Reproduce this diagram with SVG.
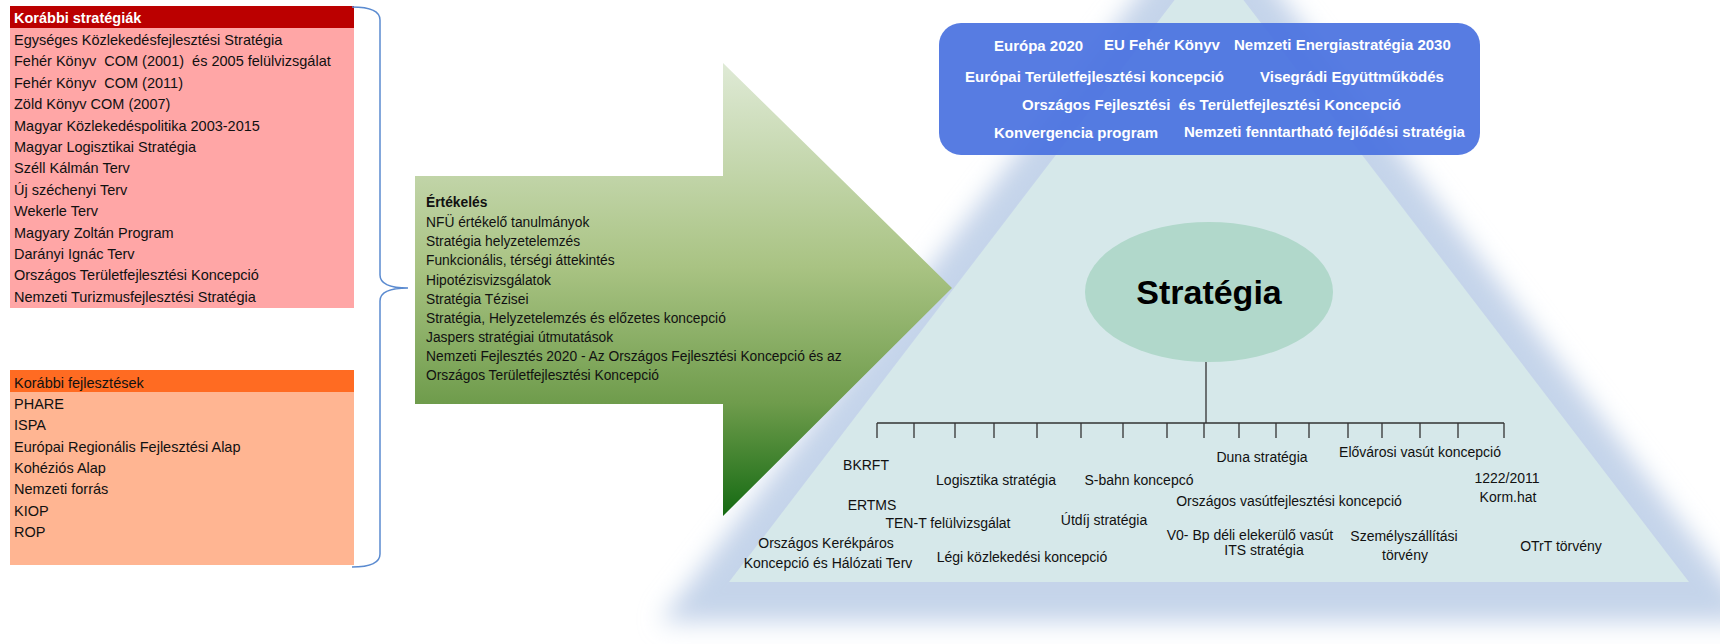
<svg xmlns="http://www.w3.org/2000/svg" width="1720" height="644" viewBox="0 0 1720 644">
<defs>
<linearGradient id="gArrow" x1="0" y1="63" x2="0" y2="516" gradientUnits="userSpaceOnUse">
<stop offset="0" stop-color="#dfead6"/>
<stop offset="0.45" stop-color="#a9c383"/>
<stop offset="0.75" stop-color="#6f9c4c"/>
<stop offset="1" stop-color="#146a12"/>
</linearGradient>
<filter id="fGlow" x="-20%" y="-20%" width="140%" height="140%">
<feGaussianBlur stdDeviation="12"/>
</filter>
<style>
.t{font-family:"Liberation Sans",Arial,sans-serif;font-size:14.5px;fill:#111;white-space:pre}
.hw{font-family:"Liberation Sans",Arial,sans-serif;font-size:14.5px;font-weight:bold;fill:#fff}
.a{font-family:"Liberation Sans",Arial,sans-serif;font-size:13.8px;fill:#111;white-space:pre}
.b{font-family:"Liberation Sans",Arial,sans-serif;font-size:15px;font-weight:bold;fill:#fff;white-space:pre}
.l{font-family:"Liberation Sans",Arial,sans-serif;font-size:14px;fill:#111;text-anchor:middle}
.ln{stroke:#333;stroke-width:1.3;fill:none}
</style>
</defs>
<rect width="1720" height="644" fill="#fff"/>

<g id="pyramid">
<polygon points="1209,-98 1757,622 660,622" fill="#c5d4ea" filter="url(#fGlow)"/>
<polygon points="1209,-45 1689,582 729,582" fill="#d6e8ea"/>
</g>

<g id="strategiak">
<rect x="10" y="6" width="344" height="302" fill="#ffa6a6"/>
<rect x="10" y="6" width="344" height="22" fill="#bb0000"/>
<text class="hw" x="14" y="23">Korábbi stratégiák</text>
<text class="t" x="14" y="45">Egységes Közlekedésfejlesztési Stratégia</text>
<text class="t" x="14" y="66.4">Fehér Könyv  COM (2001)  és 2005 felülvizsgálat</text>
<text class="t" x="14" y="87.8">Fehér Könyv  COM (2011)</text>
<text class="t" x="14" y="109.2">Zöld Könyv COM (2007)</text>
<text class="t" x="14" y="130.6">Magyar Közlekedéspolitika 2003-2015</text>
<text class="t" x="14" y="152">Magyar Logisztikai Stratégia</text>
<text class="t" x="14" y="173.4">Széll Kálmán Terv</text>
<text class="t" x="14" y="194.8">Új széchenyi Terv</text>
<text class="t" x="14" y="216.2">Wekerle Terv</text>
<text class="t" x="14" y="237.6">Magyary Zoltán Program</text>
<text class="t" x="14" y="259">Darányi Ignác Terv</text>
<text class="t" x="14" y="280.4">Országos Területfejlesztési Koncepció</text>
<text class="t" x="14" y="301.8">Nemzeti Turizmusfejlesztési Stratégia</text>
</g>

<g id="fejlesztesek">
<rect x="10" y="370" width="344" height="195" fill="#ffb592"/>
<rect x="10" y="370" width="344" height="22" fill="#ff6b22"/>
<text class="t" x="14" y="388">Korábbi fejlesztések</text>
<text class="t" x="14" y="409">PHARE</text>
<text class="t" x="14" y="430.3">ISPA</text>
<text class="t" x="14" y="451.6">Európai Regionális Fejlesztési Alap</text>
<text class="t" x="14" y="472.9">Kohéziós Alap</text>
<text class="t" x="14" y="494.2">Nemzeti forrás</text>
<text class="t" x="14" y="515.5">KIOP</text>
<text class="t" x="14" y="536.8">ROP</text>
</g>

<g id="brace">
<path d="M352,7 Q380,7 380,20 L380,275 Q380,288 408,288 Q380,288 380,301 L380,554 Q380,567 352,567" fill="none" stroke="#5b8bd0" stroke-width="1.5"/>
</g>

<g id="ertekeles">
<polygon points="415,176 723,176 723,63 952,288 723,516 723,404 415,404" fill="url(#gArrow)"/>
<text class="a" x="426" y="207" font-weight="bold">Értékelés</text>
<text class="a" x="426" y="227">NFÜ értékelő tanulmányok</text>
<text class="a" x="426" y="246">Stratégia helyzetelemzés</text>
<text class="a" x="426" y="265">Funkcionális, térségi áttekintés</text>
<text class="a" x="426" y="284.5">Hipotézisvizsgálatok</text>
<text class="a" x="426" y="303.5">Stratégia Tézisei</text>
<text class="a" x="426" y="322.5">Stratégia, Helyzetelemzés és előzetes koncepció</text>
<text class="a" x="426" y="341.5">Jaspers stratégiai útmutatások</text>
<text class="a" x="426" y="361">Nemzeti Fejlesztés 2020 - Az Országos Fejlesztési Koncepció és az</text>
<text class="a" x="426" y="380">Országos Területfejlesztési Koncepció</text>
</g>

<g id="kontextus">
<rect x="939" y="23" width="541" height="132" rx="22" fill="#4a72e0" fill-opacity="0.93"/>
<text class="b" x="994" y="51">Európa 2020</text>
<text class="b" x="1104" y="50">EU Fehér Könyv</text>
<text class="b" x="1234" y="50">Nemzeti Energiastratégia 2030</text>
<text class="b" x="965" y="82">Európai Területfejlesztési koncepció</text>
<text class="b" x="1260" y="82">Visegrádi Együttműködés</text>
<text class="b" x="1022" y="110" font-size="14.5">Országos Fejlesztési  és Területfejlesztési Koncepció</text>
<text class="b" x="994" y="138">Konvergencia program</text>
<text class="b" x="1184" y="137">Nemzeti fenntartható fejlődési stratégia</text>
</g>

<g id="strategia">
<ellipse cx="1209" cy="292" rx="124" ry="70" fill="#b1d8cb"/>
<text x="1209" y="304" text-anchor="middle" font-family="Liberation Sans, Arial, sans-serif" font-size="34" font-weight="bold" fill="#000">Stratégia</text>
</g>

<g id="connectors">
<path class="ln" d="M1206,362 V423 M877,423 H1504 M877,423 V438 M914,423 V438 M955,423 V438 M994,423 V438 M1037,423 V438 M1081,423 V438 M1123,423 V438 M1167,423 V438 M1204,423 V438 M1239,423 V438 M1276,423 V438 M1309,423 V438 M1348,423 V438 M1382,423 V438 M1420,423 V438 M1458,423 V438 M1504,423 V438"/>
</g>

<g id="labels">
<text class="l" x="866" y="470">BKRFT</text>
<text class="l" x="996" y="485">Logisztika stratégia</text>
<text class="l" x="1139" y="485">S-bahn koncepcó</text>
<text class="l" x="872" y="510">ERTMS</text>
<text class="l" x="948" y="528">TEN-T felülvizsgálat</text>
<text class="l" x="1104" y="525">Útdíj stratégia</text>
<text class="l" x="826" y="548">Országos Kerékpáros</text>
<text class="l" x="828" y="568">Koncepció és Hálózati Terv</text>
<text class="l" x="1022" y="562">Légi közlekedési koncepció</text>
<text class="l" x="1262" y="462">Duna stratégia</text>
<text class="l" x="1289" y="506">Országos vasútfejlesztési koncepció</text>
<text class="l" x="1250" y="540">V0- Bp déli elekerülő vasút</text>
<text class="l" x="1264" y="555">ITS stratégia</text>
<text class="l" x="1420" y="457">Elővárosi vasút koncepció</text>
<text class="l" x="1507" y="483">1222/2011</text>
<text class="l" x="1508" y="502">Korm.hat</text>
<text class="l" x="1404" y="541">Személyszállítási</text>
<text class="l" x="1405" y="560">törvény</text>
<text class="l" x="1561" y="551">OTrT törvény</text>
</g>
</svg>
